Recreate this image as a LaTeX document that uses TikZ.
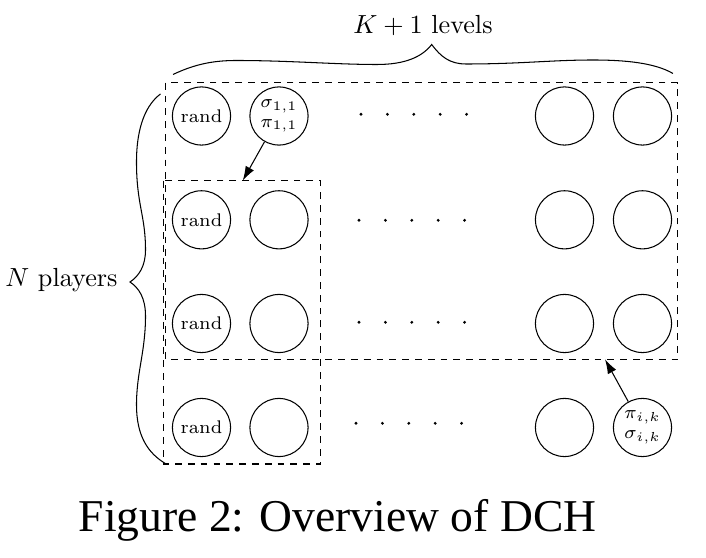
\documentclass[tikz,border=0pt]{standalone}
\usepackage{fontspec}
\newfontfamily\timesfont{Liberation Serif}
\usetikzlibrary{arrows.meta}

\tikzset{
  agent/.style={circle, draw, minimum size=22.2pt, inner sep=0pt, font=\scriptsize},
  group/.style={draw, dash pattern=on 2.6pt off 2.3pt, line width=0.6pt},
  pass/.style={-{Latex[length=5.5pt, width=3.6pt]}},
}

\begin{document}
\begin{tikzpicture}[x=0.382pt, y=-0.382pt]
    \useasboundingbox (0,0) rectangle (706,558);
    % players x levels
    \foreach \i/\y in {1/116, 2/219.8, 3/323.5, 4/427.5}
      \node[agent] (R\i) at (201.5,\y) {rand};
    \node[agent, align=center] (C1) at (279,116) {$\sigma_{1,1}$\\[-0.4pt]$\pi_{1,1}$};
    \foreach \i/\y in {2/219.8, 3/323.5, 4/427.5}
      \node[agent] (C\i) at (279,\y) {};
    \foreach \i/\y in {1/116, 2/219.8, 3/323.5, 4/427.5}
      \node[agent] (P\i) at (564.5,\y) {};
    \foreach \i/\y in {1/116, 2/219.8, 3/323.5}
      \node[agent] (Q\i) at (642.5,\y) {};
    \node[agent, align=center] (Q4) at (642.5,427.5) {$\pi_{i,k}$\\[-0.4pt]$\sigma_{i,k}$};
    \foreach \x/\y in {361/114.3, 359/220.3, 359/322.3, 356/423.3}
      \foreach \k in {0,...,4}
        \fill ({\x+26.4*\k},\y) circle[radius=0.6pt];
    % dashed groups
    \draw[group] (165.7,82.7) rectangle (677.7,359.3);
    \draw[group] (163.3,180.7) rectangle (320.5,464);
    \coordinate (T1) at (242.7,180.7);
    \coordinate (T2) at (605,359.3);
    \draw[pass] (C1) -- (T1);
    \draw[pass] (Q4) -- (T2);
    % braces
    \draw (173,74.5) .. controls (195,64) and (214,60.5) .. (236,60.5)
      .. controls (290,60.5) and (335,64.5) .. (377,64.5)
      .. controls (405,64.5) and (422,57) .. (431.7,44.5)
      .. controls (441,57) and (450,64) .. (466,64)
      .. controls (520,64) and (552,60) .. (593,60)
      .. controls (626,60) and (655,63) .. (673,73.5);
    \draw (160.5,94) .. controls (147,104) and (136.5,125) .. (136.5,162)
      .. controls (136.5,205) and (145.5,215) .. (145.5,250)
      .. controls (145.5,266) and (139,276) .. (130,282)
      .. controls (139,288) and (145.5,298) .. (145.5,316)
      .. controls (145.5,352) and (136.5,372) .. (136.5,405)
      .. controls (136.5,436) and (148,453) .. (165,463.3);
    \node[anchor=base] (KL) at (423,33.3) {$K+1$ levels};
    \node[anchor=east, inner sep=0pt] (NL) at (118,280) {$N$ players};
    \node[anchor=base, font=\timesfont\fontsize{17.4}{20}\selectfont] (FIG) at (337.6,531.7) {Figure 2: Overview of DCH};
  \end{tikzpicture}
\end{document}
